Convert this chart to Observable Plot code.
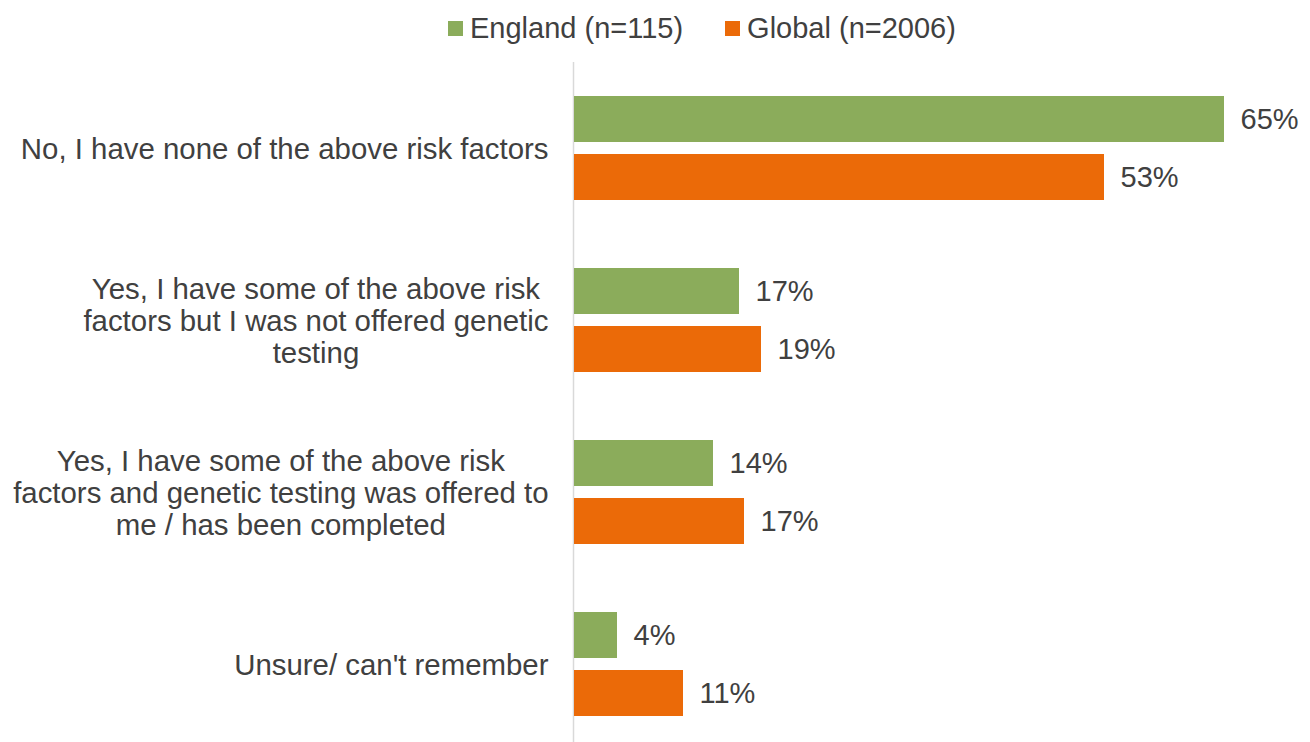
<!DOCTYPE html>
<html>
<head>
<meta charset="utf-8">
<script src="https://cdn.jsdelivr.net/npm/d3@7"></script>
<script src="https://cdn.jsdelivr.net/npm/@observablehq/plot@0.6"></script>
<style>
  html, body { margin: 0; padding: 0; background: #fff; overflow: hidden; }
  #wrap { position: relative; width: 1310px; height: 742px; }
  #legend { position: absolute; left: 448px; top: 10px; height: 36px; display: flex; align-items: center;
            font-family: "Liberation Sans", Arial, sans-serif; font-size: 29px; color: #404040; white-space: nowrap; }
  .item { display: flex; align-items: center; margin-right: 42px; }
  .sw { width: 15px; height: 15px; margin-right: 7px; }
  #chart { position: absolute; left: 0; top: 62px; }
</style>
</head>
<body>
<div id="wrap">
  <div id="legend"></div>
  <div id="chart"></div>
</div>
<script>
const questions = [
  "No, I have none of the above risk factors",
  "Yes, I have some of the above risk factors but I was not offered genetic testing",
  "Yes, I have some of the above risk factors and genetic testing was offered to me / has been completed",
  "Unsure/ can't remember"
];
const questionLines = [
  ["No, I have none of the above risk factors"],
  ["Yes, I have some of the above risk", "factors but I was not offered genetic", "testing"],
  ["Yes, I have some of the above risk", "factors and genetic testing was offered to", "me / has been completed"],
  ["Unsure/ can't remember"]
];
const seriesNames = ["England (n=115)", "Global (n=2006)"];
const england = [65.0, 16.5, 13.9, 4.3];
const global = [53.0, 18.7, 17.0, 10.9];
const seriesColors = ["#8BAC5B", "#EB6A08"];

const rows = questions.flatMap((q, i) => [
  {q, s: seriesNames[0], v: england[i]},
  {q, s: seriesNames[1], v: global[i]}
]);

// legend
const legend = document.getElementById("legend");
seriesNames.forEach((name, i) => {
  const it = document.createElement("div");
  it.className = "item";
  const sw = document.createElement("div");
  sw.className = "sw";
  sw.style.background = seriesColors[i];
  const tx = document.createElement("span");
  tx.textContent = name;
  it.appendChild(sw); it.appendChild(tx);
  legend.appendChild(it);
});

const FONT = "'Liberation Sans', Arial, sans-serif";
const LABEL_SIZE = 29.4;
const ctx = document.createElement("canvas").getContext("2d");
ctx.font = LABEL_SIZE + "px " + FONT;
const blockWidth = lines => Math.max(...lines.map(l => ctx.measureText(l).width));

const labelMarks = questions.map((q, i) => {
  const w = blockWidth(questionLines[i]);
  return Plot.text([q], {
    fy: d => d,
    frameAnchor: "left",
    text: () => questionLines[i].join("\n"),
    textAnchor: "middle",
    lineHeight: 1.09,
    dx: -(26 + w / 2),
    fontSize: LABEL_SIZE,
    fill: "#404040"
  });
});

const chart = Plot.plot({
  width: 1310,
  height: 688,
  marginLeft: 574,
  marginRight: 36,
  marginTop: 0,
  marginBottom: 0,
  style: {fontFamily: FONT, background: "white", overflow: "visible"},
  x: {domain: [0, 70], axis: null},
  y: {domain: seriesNames, axis: null, paddingInner: 12 / 58, paddingOuter: 0.5862},
  fy: {domain: questions, axis: null, padding: 0},
  color: {domain: seriesNames, range: seriesColors},
  marks: [
    Plot.ruleX([0], {stroke: "#d9d9d9", strokeWidth: 1.5, dx: -1}),
    Plot.barX(rows, {x: "v", y: "s", fy: "q", fill: "s"}),
    Plot.text(rows, {x: "v", y: "s", fy: "q", text: d => Math.round(d.v) + "%",
      textAnchor: "start", dx: 16, fontSize: 29, fill: "#404040"}),
    ...labelMarks
  ]
});
document.getElementById("chart").appendChild(chart);
</script>
</body>
</html>
